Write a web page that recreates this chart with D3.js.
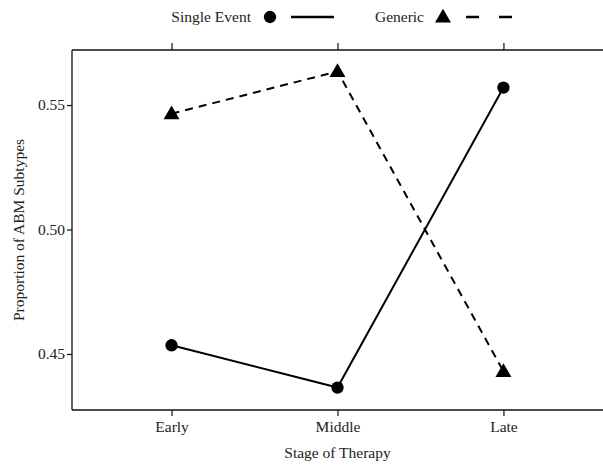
<!DOCTYPE html>
<html>
<head>
<meta charset="utf-8">
<script src="https://cdn.jsdelivr.net/npm/d3@7"></script>
<style>
  body { margin: 0; background: #fff; }
  text { font-family: "Liberation Serif", "Times New Roman", serif; fill: #222; }
</style>
</head>
<body>
<svg width="603" height="465"></svg>
<script>
var stages = ['Early', 'Middle', 'Late'];
var singleEvent = [0.4535, 0.4365, 0.557];
var generic = [0.5465, 0.5635, 0.443];
var yTicks = [0.45, 0.50, 0.55];

var fontSize = '15.5px';
var svg = d3.select('svg');
var padding = { t: 50, r: 0, b: 55, l: 72 };
var chartWidth = +svg.attr('width') - padding.l - padding.r;
var chartHeight = +svg.attr('height') - padding.t - padding.b;

var chartG = svg.append('g')
    .attr('transform', 'translate(' + [padding.l, padding.t] + ')');

var xScale = d3.scalePoint()
    .domain(stages)
    .range([0, chartWidth])
    .padding(0.6);

var yScale = d3.scaleLinear()
    .domain([0.4275, 0.5721])
    .range([chartHeight, 0]);

// axes
var xAxis = chartG.append('g')
    .attr('transform', 'translate(0,' + chartHeight + ')')
    .call(d3.axisBottom(xScale).tickSize(6).tickPadding(5));
var xTop = chartG.append('g')
    .call(d3.axisTop(xScale).tickSize(7).tickFormat(''));
var yAxis = chartG.append('g')
    .call(d3.axisLeft(yScale).tickValues(yTicks).tickFormat(d3.format('.2f')).tickSize(5).tickPadding(2));

[xAxis, xTop, yAxis].forEach(function(a) {
    a.attr('font-size', null).attr('font-family', null);
    a.select('.domain').attr('stroke', '#111').attr('stroke-width', 1.3);
    a.selectAll('.tick line').attr('stroke', '#111').attr('stroke-width', 1.2);
    a.selectAll('.tick text')
        .style('font-family', '"Liberation Serif", serif')
        .style('font-size', fontSize)
        .attr('fill', '#222');
});
yAxis.select('.domain').attr('d', 'M0,0V' + chartHeight);
xAxis.select('.domain').attr('d', 'M0,0H' + chartWidth);
xTop.select('.domain').attr('d', 'M0,0H' + chartWidth);

// axis titles
svg.append('text')
    .attr('x', padding.l + chartWidth / 2)
    .attr('y', 458)
    .attr('text-anchor', 'middle')
    .style('font-size', fontSize)
    .text('Stage of Therapy');

svg.append('text')
    .attr('transform', 'translate(24,' + (padding.t + chartHeight / 2) + ') rotate(-90)')
    .attr('text-anchor', 'middle')
    .style('font-size', fontSize)
    .text('Proportion of ABM Subtypes');

// lines
var line = d3.line()
    .x(function(d, i) { return xScale(stages[i]); })
    .y(function(d) { return yScale(d); });

chartG.append('path')
    .datum(singleEvent)
    .attr('d', line)
    .attr('fill', 'none')
    .attr('stroke', '#000')
    .attr('stroke-width', 2);

chartG.append('path')
    .datum(generic)
    .attr('d', line)
    .attr('fill', 'none')
    .attr('stroke', '#000')
    .attr('stroke-width', 2)
    .attr('stroke-dasharray', '8,6');

var circleSym = d3.symbol().type(d3.symbolCircle).size(120);
var triSym = d3.symbol().type(d3.symbolTriangle).size(110);

chartG.selectAll('.pt-single')
    .data(singleEvent)
    .enter().append('path')
    .attr('class', 'pt-single')
    .attr('d', circleSym)
    .attr('transform', function(d, i) { return 'translate(' + xScale(stages[i]) + ',' + yScale(d) + ')'; })
    .attr('fill', '#000');

chartG.selectAll('.pt-generic')
    .data(generic)
    .enter().append('path')
    .attr('class', 'pt-generic')
    .attr('d', triSym)
    .attr('transform', function(d, i) { return 'translate(' + xScale(stages[i]) + ',' + (yScale(d) + 1) + ')'; })
    .attr('fill', '#000');

// legend
var legend = svg.append('g');
legend.append('text')
    .attr('x', 251).attr('y', 22)
    .attr('text-anchor', 'end')
    .style('font-size', fontSize)
    .text('Single Event');
legend.append('path')
    .attr('d', circleSym)
    .attr('transform', 'translate(270,17)')
    .attr('fill', '#000');
legend.append('line')
    .attr('x1', 291).attr('x2', 334).attr('y1', 17).attr('y2', 17)
    .attr('stroke', '#000').attr('stroke-width', 2.6);

legend.append('text')
    .attr('x', 424).attr('y', 22)
    .attr('text-anchor', 'end')
    .style('font-size', fontSize)
    .text('Generic');
legend.append('path')
    .attr('d', triSym)
    .attr('transform', 'translate(443,18)')
    .attr('fill', '#000');
legend.append('line')
    .attr('x1', 466).attr('x2', 512).attr('y1', 17).attr('y2', 17)
    .attr('stroke', '#000').attr('stroke-width', 2.6)
    .attr('stroke-dasharray', '13,20');
</script>
</body>
</html>
